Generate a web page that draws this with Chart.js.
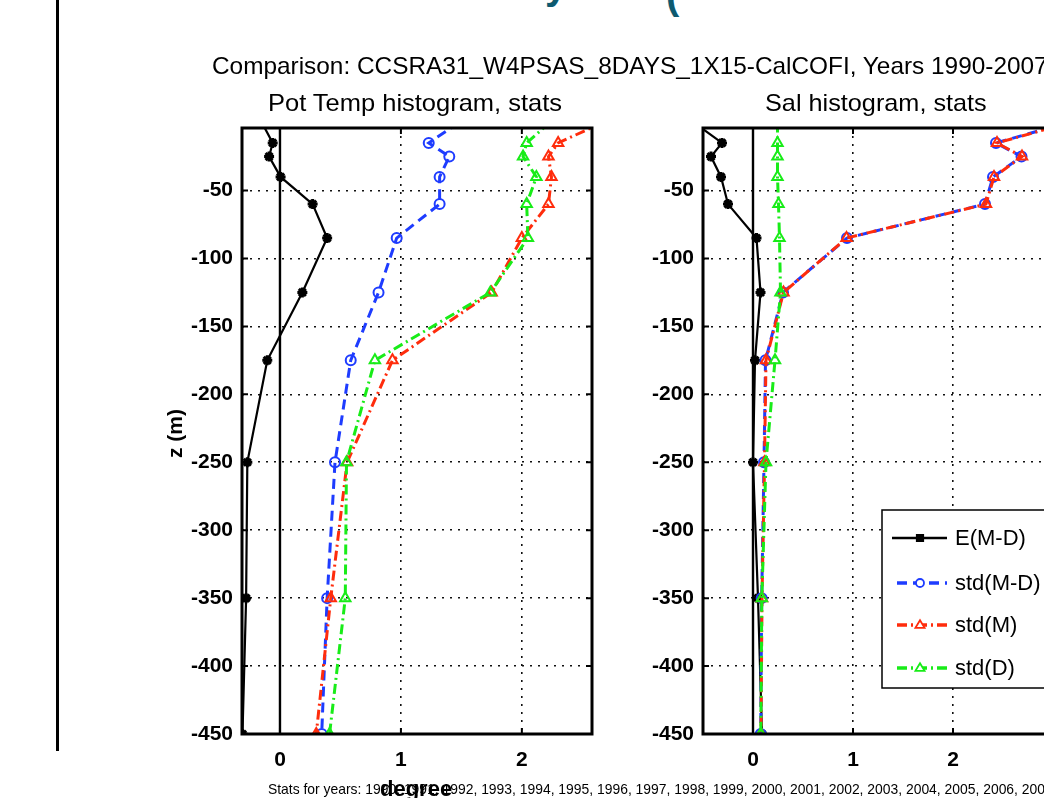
<!DOCTYPE html>
<html>
<head>
<meta charset="utf-8">
<script src="https://cdn.jsdelivr.net/npm/chart.js@4.4.0/dist/chart.umd.min.js"></script>
<style>
  html, body { margin: 0; padding: 0; background: #fff; overflow: hidden; width: 1044px; height: 798px; }
  #page { position: relative; width: 1044px; height: 798px; overflow: hidden; background: #fff; }
  canvas { position: absolute; top: 0; }
  .txt { position: absolute; white-space: nowrap; color: #000; line-height: 1;
         font-family: "Liberation Sans", Arial, sans-serif; transform-origin: 0 50%; }
  .narrow { font-family: "Liberation Sans Narrow", "Liberation Sans", Arial, sans-serif; }
  #sideRule { position: absolute; left: 56px; top: 0; width: 3px; height: 751px; background: #000; }
  .head { position: absolute; color: #0e5a70; font: bold 40px "Liberation Sans", Arial, sans-serif; line-height: 1; }
</style>
</head>
<body>
<div id="page">
  <div id="sideRule"></div>
  <span class="head" style="left:545px; top:-35px;">y</span>
  <span class="head" style="left:666px; top:-25px;">(</span>
  <canvas id="tempChart" width="620" height="798" style="left:0px"></canvas>
  <canvas id="salChart" width="460" height="798" style="left:620px"></canvas>
  <span id="mainTitle" class="txt narrow" style="font-size:24px"></span>
  <span id="tempTitle" class="txt narrow" style="font-size:24px"></span>
  <span id="salTitle" class="txt narrow" style="font-size:24px"></span>
  <span id="zLabel" class="txt" style="font-size:21px; font-weight:bold; transform-origin:50% 50%"></span>
  <span id="statsLine" class="txt" style="font-size:13.9px"></span>
  <span id="xLabel" class="txt" style="font-size:22px; font-weight:bold"></span>
</div>
<script>
// Depth levels (m) of the profiles
const depth = [0, -15, -25, -40, -60, -85, -125, -175, -250, -350, -450];

// Potential temperature statistics (degree)
const tempMeanDiff = [-0.15, -0.06, -0.09, 0.005, 0.27, 0.39, 0.185, -0.105, -0.27, -0.28, -0.31];
const tempStdDiff  = [1.48, 1.23, 1.40, 1.32, 1.32, 0.965, 0.815, 0.585, 0.455, 0.39, 0.345];
const tempStdModel = [2.67, 2.30, 2.22, 2.245, 2.22, 2.00, 1.75, 0.93, 0.555, 0.42, 0.30];
const tempStdData  = [2.23, 2.04, 2.01, 2.12, 2.04, 2.05, 1.74, 0.785, 0.55, 0.54, 0.41];

// Salinity statistics
const salMeanDiff = [-0.59, -0.31, -0.42, -0.32, -0.25, 0.035, 0.075, 0.02, 0.0, 0.05, 0.09];
const salStdDiff  = [3.15, 2.43, 2.685, 2.40, 2.32, 0.94, 0.30, 0.125, 0.11, 0.087, 0.077];
const salStdModel = [3.17, 2.44, 2.69, 2.41, 2.33, 0.935, 0.305, 0.13, 0.115, 0.09, 0.08];
const salStdData  = [0.245, 0.245, 0.245, 0.245, 0.255, 0.265, 0.275, 0.22, 0.13, 0.088, 0.078];

const seriesLabels = ['E(M-D)', 'std(M-D)', 'std(M)', 'std(D)'];

// Axis ticks
const depthTicks = [-50, -100, -150, -200, -250, -300, -350, -400, -450];
const depthTickLabels = ['-50', '-100', '-150', '-200', '-250', '-300', '-350', '-400', '-450'];
const tempTicks = [0, 1, 2];
const tempTickLabels = ['0', '1', '2'];
const salTicks = [0, 1, 2, 3];
const salTickLabels = ['0', '1', '2', '3'];

const years = [1990, 1991, 1992, 1993, 1994, 1995, 1996, 1997, 1998, 1999,
               2000, 2001, 2002, 2003, 2004, 2005, 2006, 2007];

const titleText = 'Comparison: CCSRA31_W4PSAS_8DAYS_1X15-CalCOFI, Years 1990-2007';
const tempTitleText = 'Pot Temp histogram, stats';
const salTitleText = 'Sal histogram, stats';

// Line / marker appearance per series
const seriesStyle = [
  { color: '#000000', width: 2.2, dash: [],            marker: 'star',     radius: 5,   fill: '#000000', mw: 3 },
  { color: '#1e3cff', width: 3,   dash: [10, 6],       marker: 'circle',   radius: 5,   fill: 'rgba(255,255,255,0)', mw: 2 },
  { color: '#ff2c0c', width: 3,   dash: [10, 4, 2, 4], marker: 'triangle', radius: 6,   fill: 'rgba(255,255,255,0)', mw: 2 },
  { color: '#18ec18', width: 3,   dash: [10, 4, 2, 4], marker: 'triangle', radius: 6,   fill: 'rgba(255,255,255,0)', mw: 2 }
];

const tickFont = { family: 'Liberation Sans', size: 21, weight: 'bold' };
const zMin = -450, zMax = -4;

function buildDatasets(seriesList) {
  return seriesList.map((vals, i) => {
    const st = seriesStyle[i];
    return {
      label: seriesLabels[i],
      data: vals.map((v, k) => ({ x: v, y: depth[k] })),
      showLine: true,
      borderColor: st.color,
      borderWidth: st.width,
      borderDash: st.dash,
      tension: 0,
      pointStyle: st.marker,
      pointRadius: st.radius,
      pointBorderColor: st.color,
      pointBackgroundColor: st.fill,
      pointBorderWidth: st.mw,
      order: seriesList.length - i
    };
  });
}

// Axes box, inward tick marks and the zero reference line
const axesBox = {
  id: 'axesBox',
  beforeDatasetsDraw(chart) {
    const { ctx, chartArea: a, scales: { x } } = chart;
    const px = x.getPixelForValue(0);
    ctx.save();
    ctx.strokeStyle = '#000';
    ctx.lineWidth = 2.4;
    ctx.beginPath();
    ctx.moveTo(px, a.top);
    ctx.lineTo(px, a.bottom);
    ctx.stroke();
    ctx.restore();
  },
  afterDatasetsDraw(chart) {
    const { ctx, chartArea: a, scales: { x, y } } = chart;
    ctx.save();
    ctx.strokeStyle = '#000';
    ctx.lineWidth = 2;
    const tl = 6;
    ctx.beginPath();
    x.ticks.forEach(t => {
      const px = x.getPixelForValue(t.value);
      ctx.moveTo(px, a.bottom); ctx.lineTo(px, a.bottom - tl);
      ctx.moveTo(px, a.top); ctx.lineTo(px, a.top + tl);
    });
    y.ticks.forEach(t => {
      const py = y.getPixelForValue(t.value);
      ctx.moveTo(a.left, py); ctx.lineTo(a.left + tl, py);
      ctx.moveTo(a.right, py); ctx.lineTo(a.right - tl, py);
    });
    ctx.stroke();
    ctx.lineWidth = 3;
    ctx.strokeRect(a.left, a.top, a.right - a.left, a.bottom - a.top);
    ctx.restore();
  }
};

function drawMarker(ctx, kind, cx, cy, r, stroke, fill, lw) {
  ctx.save();
  ctx.setLineDash([]);
  ctx.strokeStyle = stroke;
  ctx.fillStyle = fill;
  ctx.lineWidth = lw;
  ctx.beginPath();
  if (kind === 'circle') {
    ctx.arc(cx, cy, r, 0, Math.PI * 2);
    ctx.fill(); ctx.stroke();
  } else if (kind === 'triangle') {
    ctx.moveTo(cx, cy - r);
    ctx.lineTo(cx + r * 0.95, cy + r * 0.6);
    ctx.lineTo(cx - r * 0.95, cy + r * 0.6);
    ctx.closePath();
    ctx.fill(); ctx.stroke();
  } else {
    ctx.rect(cx - r * 0.8, cy - r * 0.8, r * 1.6, r * 1.6);
    ctx.fill(); ctx.stroke();
  }
  ctx.restore();
}

// Boxed legend inside the salinity axes
const boxLegend = {
  id: 'boxLegend',
  afterDraw(chart) {
    const { ctx, chartArea: a } = chart;
    const left = a.left + 179, top = a.top + 382, w = 190, h = 178;
    const rows = [28, 73, 115, 158];
    ctx.save();
    ctx.fillStyle = '#fff';
    ctx.fillRect(left, top, w, h);
    ctx.strokeStyle = '#000';
    ctx.lineWidth = 1.5;
    ctx.strokeRect(left, top, w, h);
    chart.data.datasets.forEach((ds, i) => {
      const st = seriesStyle[i];
      const yy = top + rows[i];
      ctx.save();
      ctx.strokeStyle = ds.borderColor;
      ctx.lineWidth = ds.borderWidth + 0.3;
      ctx.setLineDash(ds.borderDash);
      ctx.beginPath();
      ctx.moveTo(left + (i === 0 ? 10 : 15), yy);
      ctx.lineTo(left + 65, yy);
      ctx.stroke();
      ctx.restore();
      drawMarker(ctx, i === 0 ? 'square' : st.marker, left + 38, yy, st.radius * 0.8,
                 st.color, i === 0 ? '#000' : '#fff', 1.8);
      ctx.fillStyle = '#000';
      ctx.font = '22px "Liberation Sans", Arial, sans-serif';
      ctx.textBaseline = 'middle';
      ctx.textAlign = 'left';
      ctx.fillText(ds.label, left + 73, yy + 1);
    });
    ctx.restore();
  }
};

function makeChart(canvasId, seriesList, xMin, xMax, xTicks, xLabels, yAxisWidth, padRight, extra) {
  const scaleCommon = {
    type: 'linear',
    bounds: 'data',
    grid: { color: '#111', lineWidth: 1.6, drawTicks: false },
    border: { display: false, dash: [2, 6] }
  };
  return new Chart(document.getElementById(canvasId), {
    type: 'scatter',
    data: { datasets: buildDatasets(seriesList) },
    options: {
      responsive: false,
      animation: false,
      events: [],
      layout: { padding: { left: 0, top: 128, right: padRight, bottom: 24 } },
      plugins: { legend: { display: false }, tooltip: { enabled: false } },
      scales: {
        x: Object.assign({}, scaleCommon, {
          position: 'bottom',
          min: xMin, max: xMax,
          afterBuildTicks: s => { s.ticks = xTicks.map(v => ({ value: v })); },
          afterFit: s => { s.height = 40; },
          ticks: {
            font: tickFont, color: '#000', padding: 14, maxRotation: 0, autoSkip: false,
            callback: v => xLabels[xTicks.indexOf(v)]
          }
        }),
        y: Object.assign({}, scaleCommon, {
          position: 'left',
          min: zMin, max: zMax,
          afterBuildTicks: s => { s.ticks = depthTicks.map(v => ({ value: v })); },
          afterFit: s => { s.width = yAxisWidth; },
          ticks: {
            font: tickFont, color: '#000', padding: 9, autoSkip: false,
            callback: v => depthTickLabels[depthTicks.indexOf(v)]
          }
        })
      }
    },
    plugins: [axesBox].concat(extra || [])
  });
}

makeChart('tempChart', [tempMeanDiff, tempStdDiff, tempStdModel, tempStdData],
          -0.314, 2.58, tempTicks, tempTickLabels, 242, 28);
makeChart('salChart', [salMeanDiff, salStdDiff, salStdModel, salStdData],
          -0.5, 3.0, salTicks, salTickLabels, 83, 27, [boxLegend]);

// Page text
function place(id, text, opt) {
  const el = document.getElementById(id);
  el.textContent = text;
  const w = el.offsetWidth, h = el.offsetHeight;
  const s = opt.width ? opt.width / w : 1;
  const left = opt.left !== undefined ? opt.left : opt.cx - (w * s) / 2;
  el.style.left = left + 'px';
  el.style.top = (opt.cy - h / 2) + 'px';
  if (opt.rotate) {
    el.style.left = (opt.cx - w / 2) + 'px';
    el.style.transform = 'rotate(-90deg)';
  } else {
    el.style.transform = 'scaleX(' + s + ')';
  }
}

function layoutText() {
  place('mainTitle', titleText, { left: 212, cy: 66, width: 836 });
  place('tempTitle', tempTitleText, { cx: 415, cy: 103, width: 294 });
  place('salTitle', salTitleText, { cx: 876, cy: 103, width: 222 });
  place('zLabel', 'z (m)', { cx: 174, cy: 433, rotate: true });
  place('statsLine', 'Stats for years: ' + years.join(', '), { left: 268, cy: 790 });
  place('xLabel', 'degree', { cx: 416, cy: 789 });
}
if (document.fonts && document.fonts.ready) {
  document.fonts.ready.then(layoutText);
}
layoutText();
</script>
</body>
</html>
